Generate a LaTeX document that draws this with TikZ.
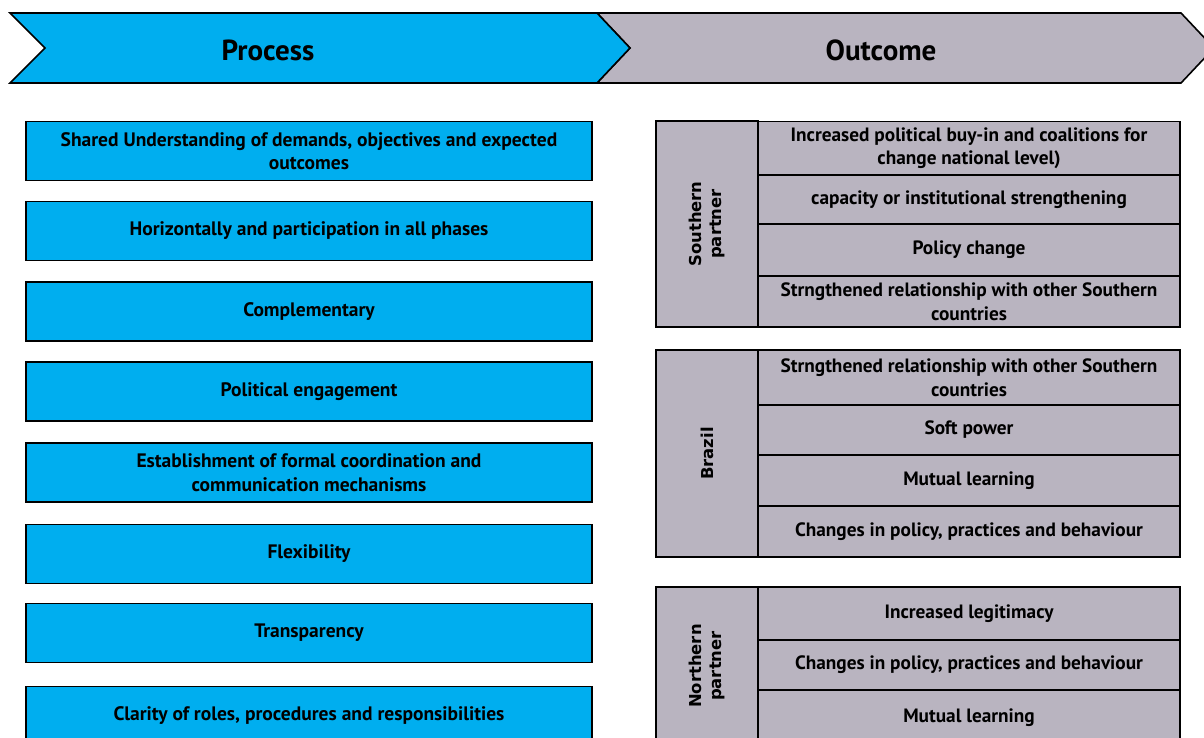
\documentclass[tikz,border=0pt]{standalone}
\usepackage{fontspec}
\setmainfont{PT Sans}
\newfontfamily\sidefont{DejaVu Sans}
\usetikzlibrary{positioning}
\definecolor{procblue}{RGB}{0,174,239}
\definecolor{outgray}{RGB}{185,180,192}
\tikzset{
  procbox/.style={draw=black, line width=1.6pt, fill=procblue, minimum width=566pt, minimum height=59pt, inner sep=0pt, align=center, font=\fontsize{19.5}{23.5}\selectfont\bfseries},
  outrow/.style={draw=black, line width=1.6pt, fill=outgray, minimum width=422pt, inner sep=0pt, align=center, font=\fontsize{19.3}{23.5}\selectfont\bfseries},
  sidecell/.style={draw=black, line width=1.6pt, fill=outgray, rotate=90, minimum height=102pt, inner sep=0pt, align=center, font=\sidefont\fontsize{16.4}{20}\selectfont\bfseries},
  headtext/.style={font=\fontsize{29}{33}\selectfont\bfseries}
}
\begin{document}
\begin{tikzpicture}[x=1pt, y=-1pt]
    \useasboundingbox (0,0) rectangle (1204,738);

    % Draw the header arrows
    \draw[line width=1.6pt, fill=outgray] (597,13) -- (1181,13) -- (1214,48) -- (1181,83) -- (597,83) -- (630,48) -- cycle;
    \draw[line width=1.6pt, fill=procblue] (10,13) -- (597,13) -- (630,48) -- (597,83) -- (10,83) -- (45,48) -- cycle;
    \node[headtext] (process) at (268,50) {Process};
    \node[headtext] (outcome) at (881,50) {Outcome};

    % Draw process boxes
    \node[procbox] (p1) at (309,151) {Shared Understanding of demands, objectives and expected\\outcomes};
    \node[procbox] (p2) at (309,231) {Horizontally and participation in all phases};
    \node[procbox] (p3) at (309,311.5) {Complementary};
    \node[procbox] (p4) at (309,391.5) {Political engagement};
    \node[procbox] (p5) at (309,472.5) {Establishment of formal coordination and\\communication mechanisms};
    \node[procbox] (p6) at (309,554) {Flexibility};
    \node[procbox] (p7) at (309,633) {Transparency};
    \node[procbox] (p8) at (309,716) {Clarity of roles, procedures and responsibilities};

    % Draw Southern partner outcomes
    \node[sidecell, minimum width=206pt] (south) at (707,224) {Southern\\partner};
    \node[outrow, minimum height=54pt] (s1) at (969,148.5) {Increased political buy-in and coalitions for\\change national level)};
    \node[outrow, minimum height=49pt] (s2) at (969,199.5) {capacity or institutional strengthening};
    \node[outrow, minimum height=52pt] (s3) at (969,250) {Policy change};
    \node[outrow, minimum height=51pt] (s4) at (969,301.5) {Strngthened relationship with other Southern\\countries};

    % Draw Brazil outcomes
    \node[sidecell, minimum width=207pt] (brazil) at (707,453.5) {Brazil};
    \node[outrow, minimum height=55pt] (b1) at (969,377.5) {Strngthened relationship with other Southern\\countries};
    \node[outrow, minimum height=50pt] (b2) at (969,430) {Soft power};
    \node[outrow, minimum height=51pt] (b3) at (969,480.5) {Mutual learning};
    \node[outrow, minimum height=51pt] (b4) at (969,531.5) {Changes in policy, practices and behaviour};

    % Draw Northern partner outcomes
    \node[sidecell, minimum width=158pt] (north) at (707,666) {Northern\\partner};
    \node[outrow, minimum height=53pt] (n1) at (969,613.5) {Increased legitimacy};
    \node[outrow, minimum height=50pt] (n2) at (969,665) {Changes in policy, practices and behaviour};
    \node[outrow, minimum height=55pt] (n3) at (969,717.5) {Mutual learning};
\end{tikzpicture}
\end{document}
